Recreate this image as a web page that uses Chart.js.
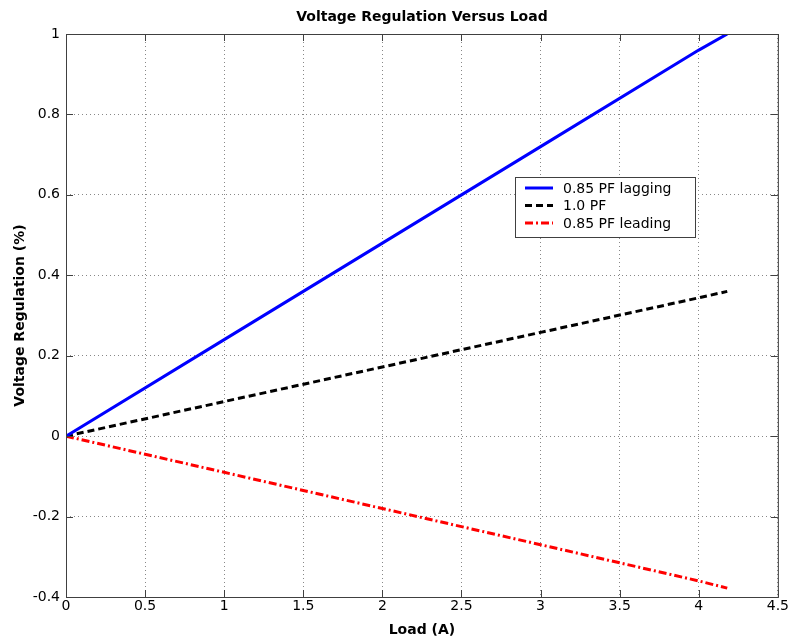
<!DOCTYPE html>
<html lang="en">
<head>
    <meta charset="UTF-8">
    <title>Voltage Regulation Versus Load</title>
    <script src="https://cdn.jsdelivr.net/npm/chart.js"></script>
    <style>
        html, body { margin: 0; padding: 0; background: #fff; }
        #wrap { width: 790px; height: 640px; }
    </style>
</head>
<body>
    <div id="wrap"><canvas id="myChart"></canvas></div>

    <script>
        // values
        const loadA   = [0, 1, 2, 3, 4, 4.18];
        const lagging = [0, 0.24, 0.48, 0.72, 0.96, 1.0];
        const unity   = [0, 0.086, 0.172, 0.258, 0.344, 0.36];
        const leading = [0, -0.09, -0.18, -0.27, -0.36, -0.378];
        const seriesNames = ['0.85 PF lagging', '1.0 PF', '0.85 PF leading'];

        const FONT = '"DejaVu Sans", Arial, sans-serif';

        function pts(ys) {
            return loadA.map((x, i) => ({ x: x, y: ys[i] }));
        }

        // matlab style tick text: 1, 0.8, 0, -0.2
        function fmt(v) {
            return String(Math.round(v * 10) / 10);
        }

        // box, inward ticks, title and legend
        const matlabFrame = {
            id: 'matlabFrame',
            afterDatasetsDraw(chart) {
                const ctx = chart.ctx;
                const a = chart.chartArea;
                const xs = chart.scales.x, ys = chart.scales.y;
                ctx.save();
                ctx.strokeStyle = '#404040';
                ctx.lineWidth = 1;
                ctx.strokeRect(a.left + 0.5, a.top + 0.5, a.right - a.left, a.bottom - a.top);
                ctx.beginPath();
                xs.ticks.forEach(t => {
                    const px = Math.round(xs.getPixelForValue(t.value)) + 0.5;
                    ctx.moveTo(px, a.bottom); ctx.lineTo(px, a.bottom - 7);
                    ctx.moveTo(px, a.top); ctx.lineTo(px, a.top + 7);
                });
                ys.ticks.forEach(t => {
                    const py = Math.round(ys.getPixelForValue(t.value)) + 0.5;
                    ctx.moveTo(a.left, py); ctx.lineTo(a.left + 7, py);
                    ctx.moveTo(a.right, py); ctx.lineTo(a.right - 7, py);
                });
                ctx.stroke();

                // title
                ctx.fillStyle = '#000';
                ctx.font = 'bold 14px ' + FONT;
                ctx.textAlign = 'center';
                ctx.textBaseline = 'middle';
                ctx.fillText('Voltage Regulation Versus Load', (a.left + a.right) / 2, 17);

                // legend box
                const bx = 515, by = 177, bw = 180, bh = 60;
                ctx.fillStyle = '#fff';
                ctx.fillRect(bx, by, bw, bh);
                ctx.strokeStyle = '#404040';
                ctx.strokeRect(bx + 0.5, by + 0.5, bw, bh);
                ctx.font = '14px ' + FONT;
                ctx.textAlign = 'left';
                chart.data.datasets.forEach((ds, i) => {
                    const y = by + 11 + i * 17.5;
                    ctx.strokeStyle = ds.borderColor;
                    ctx.lineWidth = ds.borderWidth;
                    ctx.setLineDash(ds.borderDash || []);
                    ctx.beginPath();
                    ctx.moveTo(bx + 10, y);
                    ctx.lineTo(bx + 38, y);
                    ctx.stroke();
                    ctx.setLineDash([]);
                    ctx.fillStyle = '#000';
                    ctx.fillText(ds.label, bx + 48, y + 1);
                });
                ctx.restore();
            }
        };

        new Chart(document.getElementById('myChart'), {
            type: 'line',
            data: {
                datasets: [
                    { label: seriesNames[0], data: pts(lagging), borderColor: '#0000ff', borderWidth: 3 },
                    { label: seriesNames[1], data: pts(unity), borderColor: '#000000', borderWidth: 3, borderDash: [7, 4] },
                    { label: seriesNames[2], data: pts(leading), borderColor: '#ff0000', borderWidth: 3, borderDash: [8, 3, 2, 3] }
                ]
            },
            options: {
                responsive: true,
                maintainAspectRatio: false,
                animation: false,
                elements: { point: { radius: 0 }, line: { tension: 0 } },
                layout: { padding: { top: 34, right: 12, left: 0, bottom: 0 } },
                plugins: {
                    legend: { display: false },
                    title: { display: false },
                    tooltip: { enabled: false }
                },
                scales: {
                    x: {
                        type: 'linear',
                        min: 0, max: 4.5,
                        ticks: { stepSize: 0.5, color: '#000', padding: 1, font: { family: FONT, size: 14 }, callback: fmt },
                        grid: { color: '#888', borderDash: [1, 3], drawTicks: false },
                        border: { display: false, dash: [1, 3] },
                        title: { display: true, text: 'Load (A)', color: '#000', font: { family: FONT, size: 14, weight: 'bold' }, padding: { top: 0, bottom: 1 } },
                        afterFit(scale) { scale.height = 43; }
                    },
                    y: {
                        min: -0.4, max: 1,
                        ticks: { stepSize: 0.2, color: '#000', padding: 6, font: { family: FONT, size: 14 }, callback: fmt },
                        grid: { color: '#888', borderDash: [1, 3], drawTicks: false },
                        border: { display: false, dash: [1, 3] },
                        title: { display: true, text: 'Voltage Regulation (%)', color: '#000', font: { family: FONT, size: 14, weight: 'bold' }, padding: { top: 12, bottom: 0 } },
                        afterFit(scale) { scale.width = 66; }
                    }
                }
            },
            plugins: [matlabFrame]
        });
    </script>
</body>
</html>
